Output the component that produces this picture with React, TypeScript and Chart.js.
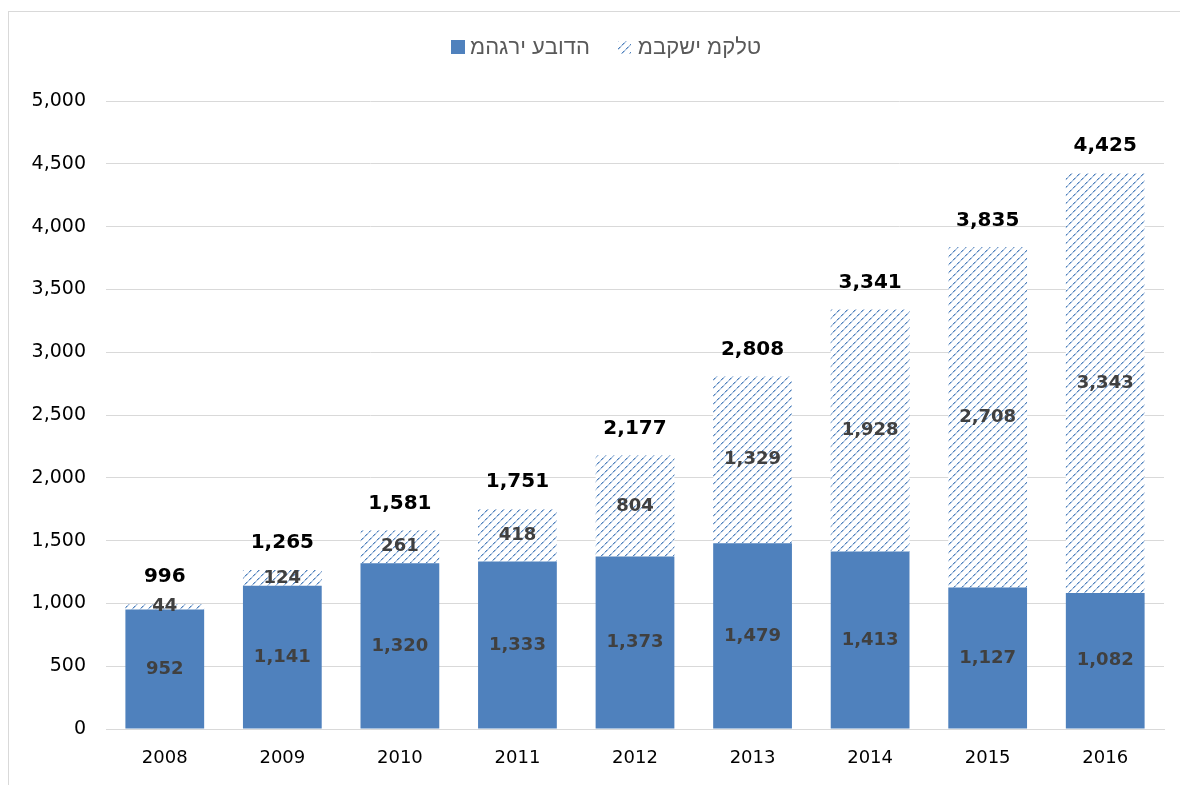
import React, { useEffect, useRef } from "react";
import { Chart, registerables } from "chart.js";

Chart.register(...registerables);

const years = ["2008", "2009", "2010", "2011", "2012", "2013", "2014", "2015", "2016"];
const workers = [952, 1141, 1320, 1333, 1373, 1479, 1413, 1127, 1082];
const asylum = [44, 124, 261, 418, 804, 1329, 1928, 2708, 3343];
const totals = [996, 1265, 1581, 1751, 2177, 2808, 3341, 3835, 4425];
const workersLabel = "מהגרי עבודה";
const asylumLabel = "מבקשי מקלט";

const BLUE = "#4F81BD";
const LIGHT = "rgba(79,129,189,0.5)";
const FONT = "'DejaVu Sans', sans-serif";
const HEB_FONT = "'Liberation Sans', Arial, sans-serif";

function hatchCanvas(): HTMLCanvasElement {
  const c = document.createElement("canvas");
  c.width = 8;
  c.height = 8;
  const g = c.getContext("2d");
  if (!g) return c;
  g.fillStyle = "#ffffff";
  g.fillRect(0, 0, 8, 8);
  for (let i = 0; i < 8; i++) {
    g.fillStyle = i % 4 < 2 ? BLUE : LIGHT;
    g.fillRect(i, 7 - i, 1, 1);
    g.fillStyle = i % 4 < 2 ? LIGHT : "rgba(79,129,189,0.3)";
    g.fillRect((i + 1) % 8, 7 - i, 1, 1);
  }
  return c;
}

const fmt = (v: number) => v.toLocaleString("en-US");

const labelPlugin = {
  id: "barLabels",
  afterDatasetsDraw(chart: any) {
    const ctx = chart.ctx;
    ctx.save();
    ctx.textAlign = "center";
    ctx.textBaseline = "middle";
    ctx.font = `bold 18px ${FONT}`;
    ctx.fillStyle = "#404040";
    chart.data.datasets.forEach((ds: any, di: number) => {
      const meta = chart.getDatasetMeta(di);
      meta.data.forEach((el: any, i: number) => {
        const y = (el.y + el.base) / 2;
        ctx.fillText(fmt(ds.data[i]), el.x, y);
      });
    });
    const top = chart.getDatasetMeta(1);
    ctx.font = `bold 20px ${FONT}`;
    ctx.fillStyle = "#000000";
    top.data.forEach((el: any, i: number) => {
      ctx.fillText(fmt(totals[i]), el.x, el.y - 27);
    });
    ctx.restore();
  },
};

// Lays the characters out in the same visual order as the reference picture.
function LegendText({ text }: { text: string }) {
  return (
    <span style={{ display: "inline-flex", flexDirection: "row" }} lang="he">
      {Array.from(text).map((ch, i) => (
        <span key={i} style={{ whiteSpace: "pre" }}>
          {ch}
        </span>
      ))}
    </span>
  );
}

export default function App() {
  const ref = useRef<HTMLCanvasElement | null>(null);
  const swatchRef = useRef<HTMLSpanElement | null>(null);
  useEffect(() => {
    if (!ref.current) return;
    const hc = hatchCanvas();
    const ctx0 = ref.current.getContext("2d");
    const hatch = (ctx0 && ctx0.createPattern(hc, "repeat")) || BLUE;
    if (swatchRef.current) {
      swatchRef.current.style.backgroundImage = `url(${hc.toDataURL()})`;
    }
    const chart = new Chart(ref.current, {
      type: "bar",
      data: {
        labels: years,
        datasets: [
          {
            label: workersLabel,
            data: workers,
            backgroundColor: BLUE,
            barPercentage: 0.67,
            categoryPercentage: 1,
          },
          {
            label: asylumLabel,
            data: asylum,
            backgroundColor: hatch as any,
            barPercentage: 0.67,
            categoryPercentage: 1,
          },
        ],
      },
      options: {
        animation: false,
        responsive: false,
        maintainAspectRatio: false,
        layout: { padding: { left: 0, right: 16, top: 89, bottom: 0 } },
        plugins: {
          legend: { display: false },
          tooltip: { enabled: false },
        },
        scales: {
          x: {
            stacked: true,
            grid: { display: false, drawTicks: false },
            border: { display: true, color: "#d9d9d9", width: 1 },
            ticks: { color: "#000000", font: { family: FONT, size: 18 }, padding: 19 },
            afterFit: (s: any) => {
              s.height = 56;
            },
          },
          y: {
            stacked: true,
            min: 0,
            max: 5000,
            grid: { color: "#d9d9d9", drawTicks: false },
            border: { display: false },
            ticks: {
              stepSize: 500,
              color: "#000000",
              font: { family: FONT, size: 19 },
              padding: 20,
              callback: (v: any) => fmt(Number(v)),
            },
            afterFit: (s: any) => {
              s.width = 97;
            },
          },
        },
      } as any,
      plugins: [labelPlugin],
    });
    return () => chart.destroy();
  }, []);
  return (
    <div
      style={{
        position: "fixed",
        left: 8,
        top: 11,
        width: 1172,
        height: 774,
        borderTop: "1px solid #d9d9d9",
        borderLeft: "1px solid #d9d9d9",
        background: "#fff",
      }}
    >
      <canvas ref={ref} width={1171} height={773} style={{ display: "block" }} />
      <div
        style={{
          position: "absolute",
          left: 442,
          top: 22,
          height: 26,
          display: "flex",
          alignItems: "center",
          direction: "ltr",
          fontFamily: HEB_FONT,
          fontSize: 22,
          color: "#595959",
          whiteSpace: "nowrap",
        }}
      >
        <span style={{ width: 14, height: 14, background: BLUE, marginRight: 5, display: "inline-block" }} />
        <LegendText text={workersLabel} />
        <span
          ref={swatchRef}
          style={{ width: 13, height: 13, marginLeft: 28, marginRight: 7, display: "inline-block" }}
        />
        <LegendText text={asylumLabel} />
      </div>
    </div>
  );
}
